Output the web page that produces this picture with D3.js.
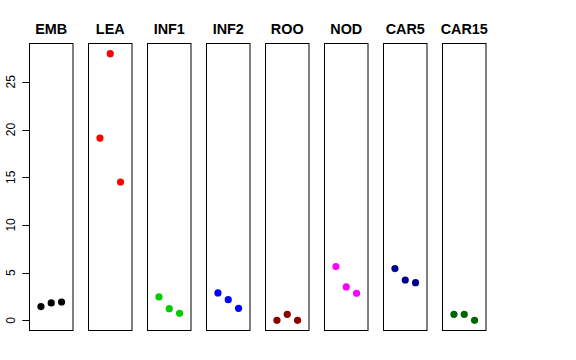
<!DOCTYPE html>
<html>
<head>
<meta charset="utf-8">
<script src="https://cdn.jsdelivr.net/npm/d3@7"></script>
<style>
  body { margin: 0; background: #fff; }
  svg { display: block; font-family: "Liberation Sans", Arial, Helvetica, sans-serif; }
</style>
</head>
<body>
<div id="chart"></div>
<script>
const categories = ["EMB", "LEA", "INF1", "INF2", "ROO", "NOD", "CAR5", "CAR15"];
const colors = ["#000000", "#FF0000", "#00CD00", "#0000FF", "#8B0000", "#FF00FF", "#00008B", "#006400"];
const emb = [1.44, 1.82, 1.92];
const lea = [19.1, 27.95, 14.5];
const inf1 = [2.45, 1.22, 0.73];
const inf2 = [2.87, 2.17, 1.26];
const roo = [0.0, 0.63, 0.0];
const nod = [5.63, 3.5, 2.83];
const car5 = [5.42, 4.23, 3.95];
const car15 = [0.63, 0.63, 0.0];
const yTicks = [0, 5, 10, 15, 20, 25];

const series = [emb, lea, inf1, inf2, roo, nod, car5, car15];

const w = 576, h = 360;
const plotTop = 43, plotBottom = 331;

const svg = d3.select("#chart").append("svg")
  .attr("width", w).attr("height", h);

const panel = d3.scaleBand()
  .domain(categories)
  .range([29, 29 + 7 * 59 + 44.5])
  .paddingInner(14.5 / 59);

// y domain like R: data range extended 4%
const ymin = d3.min(series.flat()), ymax = d3.max(series.flat());
const pad = (ymax - ymin) * 0.04;
const y = d3.scaleLinear().domain([ymin - pad, ymax + pad]).range([plotBottom, plotTop]);

// x within panel: 0..4 extended 4%
const x = d3.scaleLinear().domain([-0.16, 4.16]).range([0, panel.bandwidth()]);

categories.forEach((cat, i) => {
  const g = svg.append("g").attr("transform", `translate(${panel(cat)},0)`);
  g.append("rect")
    .attr("x", 0.5).attr("y", plotTop + 0.5)
    .attr("width", panel.bandwidth() - 1).attr("height", plotBottom - plotTop - 1)
    .attr("fill", "none").attr("stroke", "#000").attr("stroke-width", 1);
  g.selectAll("circle")
    .data(series[i])
    .enter()
    .append("circle")
    .attr("cx", (d, j) => x(j + 1))
    .attr("cy", (d) => y(d))
    .attr("r", 3.6)
    .attr("fill", colors[i]);
  g.append("text")
    .attr("x", panel.bandwidth() / 2)
    .attr("y", 34)
    .attr("text-anchor", "middle")
    .attr("font-weight", "bold")
    .attr("font-size", "14.4px")
    .text(cat);
});

// left axis, R style
const ax = svg.append("g").attr("transform", `translate(${panel(categories[0]) + 0.5},0)`);
ax.append("line")
  .attr("x1", 0).attr("x2", 0)
  .attr("y1", y(yTicks[0])).attr("y2", y(yTicks[yTicks.length - 1]))
  .attr("stroke", "#000");
ax.selectAll(".tick")
  .data(yTicks)
  .enter()
  .append("line")
  .attr("x1", -7.2).attr("x2", 0)
  .attr("y1", (d) => Math.round(y(d)) + 0.5).attr("y2", (d) => Math.round(y(d)) + 0.5)
  .attr("stroke", "#000");
ax.selectAll(".lab")
  .data(yTicks)
  .enter()
  .append("text")
  .attr("transform", (d) => `translate(-15,${y(d)}) rotate(-90)`)
  .attr("text-anchor", "middle")
  .attr("font-size", "12px")
  .text((d) => d);
</script>
</body>
</html>
